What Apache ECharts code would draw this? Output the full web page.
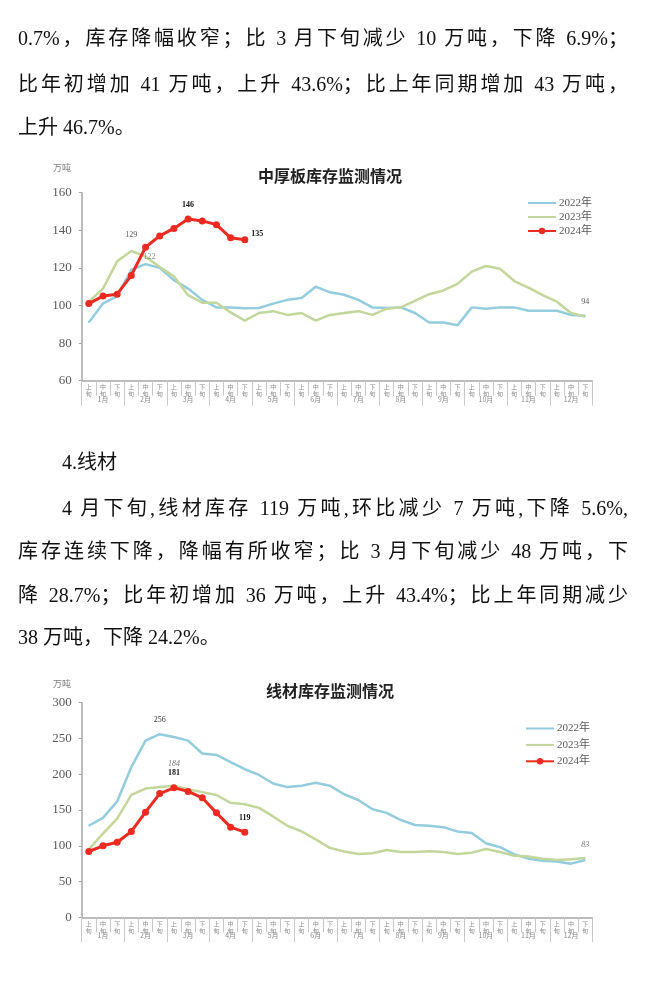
<!DOCTYPE html>
<html>
<head>
<meta charset="utf-8">
<script src="https://cdn.jsdelivr.net/npm/echarts@6/dist/echarts.min.js"></script>
<style>
html,body{margin:0;padding:0;background:#fff;}
#wrap{position:relative;width:660px;height:984px;overflow:hidden;}
#chart{position:absolute;left:0;top:0;width:660px;height:984px;}
.t{position:absolute;font-family:"Liberation Serif","Noto Sans CJK SC",serif;font-size:20px;line-height:22px;height:22px;color:#111;text-align:justify;text-align-last:justify;z-index:2;}
.n{text-align:left;text-align-last:left;}
</style>
</head>
<body>
<div id="wrap">
<div id="chart"></div>
<div class="t" style="top:27px;left:18px;width:610px;">0.7%，库存降幅收窄；比 3 月下旬减少 10 万吨，下降 6.9%；</div>
<div class="t" style="top:73px;left:18px;width:610px;">比年初增加 41 万吨，上升 43.6%；比上年同期增加 43 万吨，</div>
<div class="t n" style="top:116px;left:18px;width:610px;">上升 46.7%。</div>
<div class="t n" style="top:451px;left:62px;width:300px;">4.线材</div>
<div class="t" style="top:497px;left:62px;width:566px;">4 月下旬,线材库存 119 万吨,环比减少 7 万吨,下降 5.6%,</div>
<div class="t" style="top:540px;left:18px;width:610px;">库存连续下降，降幅有所收窄；比 3 月下旬减少 48 万吨，下</div>
<div class="t" style="top:584px;left:18px;width:610px;">降 28.7%；比年初增加 36 万吨，上升 43.4%；比上年同期减少</div>
<div class="t n" style="top:626px;left:18px;width:610px;">38 万吨，下降 24.2%。</div>
</div>
<script>
// ---- data ----
var months = ['1月','2月','3月','4月','5月','6月','7月','8月','9月','10月','11月','12月'];
var decades = ['上\n旬','中\n旬','下\n旬'];
var seriesNames = ['2022年','2023年','2024年'];

var plateTitle = '中厚板库存监测情况';
var plate2022 = [91,101,105,119,122,120,113.5,109,103,99,99,98.5,98.7,101,103,104,110,107,105.7,103,99,98.7,99,96,91,91,89.5,99,98.3,99,99,97.2,97.2,97.2,95,94.6];
var plate2023 = [102,109,123.5,129,126,120.5,115.5,105.5,101.5,101.5,96.3,92,96,97,95,96,92,95,96,97,95,98.3,99,102.5,106,108,111.5,118,121,119.5,113,109.5,105.5,102,96,94];
var plate2024 = [101,105,106,116,131,137,141,146,145,143,136,135];
var plateLabels = {b:[4], g:[3,35], r:[7,11]};

var wireTitle = '线材库存监测情况';
var wire2022 = [128,139,162,210,247,256,252,247,229,227,217,207,199,187,182,184,188,184,172,164,151,146,136,129,128,126,120,118,103.5,98,88,82,79,78,75,80];
var wire2023 = [95,117,138,171,180,182,184,179,175,171,160,158,153,141,128,120,109,97,92,88.5,89.5,94,91.3,91.3,92.3,91.3,88.5,90.4,95.5,91.3,86,85,82,80,81,83];
var wire2024 = [92,100,105,120,147,173,181,176,167,146,126,119];
var wireLabels = {b:[5], g:[6,35], r:[6,11]};

var plateY = {min:60, max:160, interval:20};
var wireY = {min:0, max:300, interval:50};

// ---- build ----
var cats = [];
months.forEach(function(){ decades.forEach(function(d){ cats.push(d); }); });

var C_B = '#93CDDD', C_G = '#C3D69B', C_R = '#EC2A22';
var NUMF = '"Liberation Serif","Noto Sans CJK SC",serif';

function items(arr, idx, lab){
  return arr.map(function(v,i){
    if (idx.indexOf(i) >= 0) {
      var l = lab(i);
      return {value:v, label:Object.assign({show:true, formatter:function(p){return Math.round(p.value);}, fontFamily:NUMF, fontSize:8}, l)};
    }
    return v;
  });
}

var grids = [
  {left:81.7, right:67.7, top:192.7, height:188, containLabel:false},
  {left:81.7, right:67.7, top:702.7, height:214.6, containLabel:false}
];
var xAxes = [], yAxes = [], series = [];
function addChart(g, yc, d22, d23, d24, labs, opts){
  xAxes.push({type:'category', gridIndex:g, data:cats, boundaryGap:true, position:'bottom',
    axisLine:{lineStyle:{color:'#a6a6a6', width:1.5}},
    axisTick:{show:true, interval:0, length:15, lineStyle:{color:'#c8c8c8'}},
    axisLabel:{interval:0, fontSize:6, lineHeight:7, color:'#8c8c8c', margin:3, fontFamily:'"Noto Sans CJK SC"'}});
  var xi = xAxes.length - 1;
  xAxes.push({type:'category', gridIndex:g, data:months, boundaryGap:true, position:'bottom',
    axisLine:{show:false},
    axisTick:{show:true, interval:0, length:25, lineStyle:{color:'#c8c8c8'}},
    axisLabel:{interval:0, fontSize:7, color:'#8c8c8c', margin:15, fontFamily:'"Noto Sans CJK SC"'}});
  yAxes.push({type:'value', gridIndex:g, min:yc.min, max:yc.max, interval:yc.interval,
    splitLine:{show:false},
    axisLine:{show:true, lineStyle:{color:'#a6a6a6', width:1.5}},
    axisTick:{show:true, length:3, lineStyle:{color:'#a6a6a6'}},
    axisLabel:{fontSize:13, color:'#595959', margin:10, fontFamily:NUMF}});
  var yi = yAxes.length - 1;
  series.push({name:seriesNames[0], type:'line', xAxisIndex:xi, yAxisIndex:yi, symbol:'circle', symbolSize:1,
    lineStyle:{color:C_B, width:2.5}, itemStyle:{color:C_B},
    data:items(d22, labs.b, opts.b)});
  series.push({name:seriesNames[1], type:'line', xAxisIndex:xi, yAxisIndex:yi, symbol:'circle', symbolSize:1,
    lineStyle:{color:C_G, width:2.5}, itemStyle:{color:C_G},
    data:items(d23, labs.g, opts.g)});
  series.push({name:seriesNames[2], type:'line', xAxisIndex:xi, yAxisIndex:yi, symbol:'circle', symbolSize:7,
    lineStyle:{color:C_R, width:3}, itemStyle:{color:C_R}, z:5,
    data:items(d24, labs.r, opts.r)});
}

addChart(0, plateY, plate2022, plate2023, plate2024, plateLabels, {
  b:function(){return {position:'top', distance:3, offset:[4,0], color:'#8c8c8c'};},
  g:function(i){return {position:'top', distance:i===35?10:12, color:'#595959'};},
  r:function(i){return i===11 ? {position:'right', distance:3, offset:[0,-6], fontWeight:'bold', color:'#111'} : {position:'top', distance:7, fontWeight:'bold', color:'#111'};}
});
addChart(1, wireY, wire2022, wire2023, wire2024, wireLabels, {
  b:function(){return {position:'top', distance:10, color:'#333'};},
  g:function(i){return {position:'top', distance:i===35?9:17, color:'#777', fontStyle:'italic'};},
  r:function(){return {position:'top', distance:7, fontWeight:'bold', color:'#111'};}
});

function legendData(){
  return [
    {name:seriesNames[0], itemStyle:{opacity:0}},
    {name:seriesNames[1], itemStyle:{opacity:0}},
    {name:seriesNames[2]}
  ];
}
var legendBase = {orient:'vertical', itemWidth:28, itemHeight:8,
  textStyle:{fontSize:11, color:'#595959', fontFamily:NUMF, padding:[0,0,0,-2]}, selectedMode:false};

var option = {
  animation:false,
  backgroundColor:'transparent',
  title:[
    {text:plateTitle, left:'center', top:163, textStyle:{fontSize:16, fontWeight:'bold', color:'#222', fontFamily:'"Noto Sans CJK SC"'}},
    {text:wireTitle, left:'center', top:678, textStyle:{fontSize:16, fontWeight:'bold', color:'#222', fontFamily:'"Noto Sans CJK SC"'}}
  ],
  legend:[
    Object.assign({}, legendBase, {left:522, top:192.5, itemGap:3, data:legendData()}),
    Object.assign({}, legendBase, {left:520, top:718, itemGap:5.4, data:legendData()})
  ],
  graphic:[
    {type:'text', left:53, top:163, style:{text:'万吨', fontSize:9, fill:'#808080', fontFamily:'"Noto Sans CJK SC"'}},
    {type:'text', left:53, top:679, style:{text:'万吨', fontSize:9, fill:'#808080', fontFamily:'"Noto Sans CJK SC"'}}
  ],
  grid:grids,
  xAxis:xAxes,
  yAxis:yAxes,
  series:series
};
var chart = echarts.init(document.getElementById('chart'), null, {renderer:'canvas'});
chart.setOption(option);
</script>
</body>
</html>
